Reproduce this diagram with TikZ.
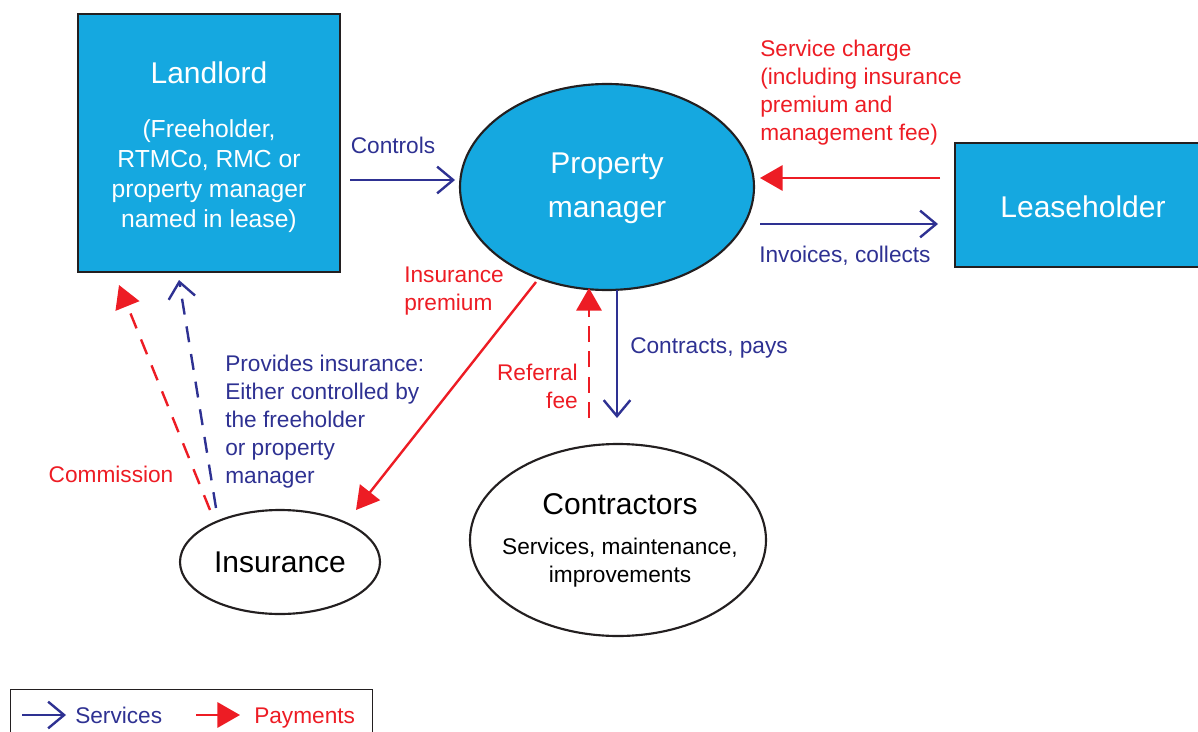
\documentclass[tikz,border=0pt]{standalone}
\usepackage{fontspec}
\setmainfont{Liberation Sans}
\usetikzlibrary{arrows.meta,shapes.geometric}
\definecolor{cyanfill}{HTML}{15A8E0}
\definecolor{navy}{HTML}{2E3192}
\definecolor{pred}{HTML}{ED1C24}
\definecolor{edge}{HTML}{231F20}
\tikzset{
  bigtxt/.style={font=\fontsize{22.5}{28}\selectfont},
  bodytxt/.style={font=\fontsize{18.5}{22.5}\selectfont, align=center, inner sep=0pt},
  smalltxt/.style={font=\fontsize{17}{21}\selectfont, inner sep=0pt},
  cbox/.style={draw=edge, line width=1.8pt, fill=cyanfill, inner sep=0pt},
  cell/.style={ellipse, draw=edge, line width=1.6pt, inner sep=0pt},
  svc/.style={draw=navy, line width=1.8pt, -{Straight Barb[length=12pt,width=20pt,line width=1.8pt]}},
  pay/.style={draw=pred, line width=1.8pt, -{Triangle[length=17pt,width=19pt]}},
}
\begin{document}
\begin{tikzpicture}[x=0.75pt,y=-0.75pt]
\useasboundingbox (0,0) rectangle (1198,731);
% boxes
\node[cbox, minimum width=196.5pt, minimum height=193.5pt] (landlord) at (209,143) {};
\node[bigtxt, text=white] (landlordt) at (209,73) {Landlord};
\node[bodytxt, text=white] (landlordb) at (209,176) {(Freeholder,\\RTMCo, RMC or\\property manager\\named in lease)};
\node[cbox, minimum width=187.5pt, minimum height=93pt] (lease) at (1080,205) {};
\node[bigtxt, text=white] (leaset) at (1083,207) {Leaseholder};
% ellipses
\node[cell, fill=cyanfill, minimum width=220.5pt, minimum height=154.5pt] (pm) at (607,187) {};
\node[bigtxt, text=white, align=center, font=\fontsize{22.5}{33}\selectfont] (pmt) at (607,188) {Property\\manager};
\node[cell, fill=white, minimum width=150pt, minimum height=78pt] (ins) at (280,562) {};
\node[bigtxt] (inst) at (280,562) {Insurance};
\node[cell, fill=white, minimum width=222pt, minimum height=144pt] (con) at (618,540) {};
\node[bigtxt] (cont) at (620,504) {Contractors};
\node[bodytxt, font=\fontsize{17}{21}\selectfont] (conb) at (620,563) {Services, maintenance,\\improvements};
% connector end points
\coordinate (c1) at (350,180); \coordinate (c2) at (455,180);
\coordinate (s1) at (940,178); \coordinate (s2) at (760,178);
\coordinate (i1) at (760,224); \coordinate (i2) at (938,224);
\coordinate (p1) at (536,282); \coordinate (p2) at (356,510);
\coordinate (r1) at (589,418); \coordinate (r2) at (589,288);
\coordinate (k1) at (617,290); \coordinate (k2) at (617,418);
\coordinate (m1) at (210,510); \coordinate (m2) at (119,285);
\coordinate (v1) at (216,508); \coordinate (v2) at (179,280);
% connectors
\draw[svc] (c1) -- (c2);
\node[smalltxt, text=navy] (lcontrols) at (393,145) {Controls};
\draw[pay] (s1) -- (s2);
\node[smalltxt, text=pred, anchor=west, align=left] (lservice) at (760,93) {Service charge\\(including insurance\\premium and\\management fee)};
\draw[svc] (i1) -- (i2);
\node[smalltxt, text=navy, anchor=west] (linv) at (759,256) {Invoices, collects};
\draw[pay] (p1) -- (p2);
\node[smalltxt, text=pred, anchor=west, align=left] (lprem) at (404,291.5) {Insurance\\premium};
\draw[pay, dash pattern=on 12pt off 7pt] (r1) -- (r2);
\node[smalltxt, text=pred, anchor=east, align=right] (lref) at (578,386) {Referral\\fee};
\draw[svc] (k1) -- (k2);
\node[smalltxt, text=navy, anchor=west] (lcontr) at (630,348) {Contracts, pays};
\draw[pay, dash pattern=on 12pt off 9pt] (m1) -- (m2);
\node[smalltxt, text=pred] (lcomm) at (111,474) {Commission};
\draw[svc, dash pattern=on 12pt off 9pt] (v1) -- (v2);
\node[smalltxt, text=navy, anchor=west, align=left] (lprov) at (225,421.5) {Provides insurance:\\Either controlled by\\the freeholder\\or property\\manager};
% legend
\node[draw=edge, line width=0.8pt, minimum width=272pt, minimum height=40pt, inner sep=0pt] (legend) at (191.5,716) {};
\coordinate (g1) at (22,715); \coordinate (g2) at (66,715);
\coordinate (g3) at (196,715); \coordinate (g4) at (240,715);
\draw[svc] (g1) -- (g2);
\node[smalltxt, text=navy, anchor=base west] (lsvc) at (75,723) {Services};
\draw[pay] (g3) -- (g4);
\node[smalltxt, text=pred, anchor=base west] (lpay) at (254,723) {Payments};
\end{tikzpicture}
\end{document}
